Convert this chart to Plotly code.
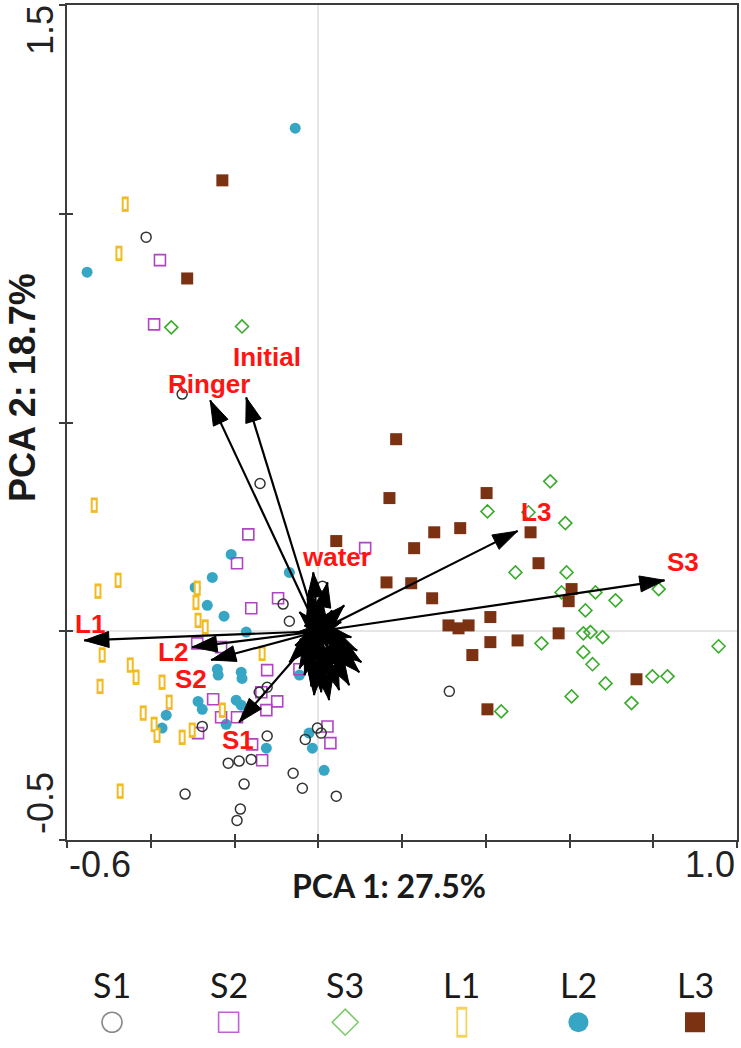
import plotly.graph_objects as go

# ---- PCA scores (PC1, PC2) ----
s1_x = [-0.411, -0.325, -0.139, 0.010, -0.084, -0.069, -0.141, -0.122, -0.277, -0.122,
        -0.215, -0.189, -0.160, -0.177, -0.318, -0.186, -0.194, -0.060, -0.038, -0.031,
        -0.002, 0.007, 0.043, 0.313]
s1_y = [0.944, 0.568, 0.354, 0.108, 0.065, 0.024, -0.146, -0.134, -0.228, -0.251,
        -0.316, -0.311, -0.307, -0.366, -0.390, -0.426, -0.453, -0.340, -0.376, -0.259,
        -0.232, -0.244, -0.395, -0.144]

s2_x = [-0.378, -0.392, -0.167, -0.194, -0.096, -0.160, 0.112, -0.289, -0.232, -0.122,
        -0.251, -0.136, -0.098, -0.124, -0.232, -0.194, -0.287, -0.158, -0.134, 0.022,
        0.029, -0.045]
s2_y = [0.889, 0.735, 0.232, 0.163, 0.079, 0.055, 0.199, -0.029, -0.038, -0.093,
        -0.163, -0.146, -0.168, -0.189, -0.206, -0.206, -0.244, -0.271, -0.309, -0.228,
        -0.268, -0.091]

s3_x = [-0.351, -0.182, 0.554, 0.404, 0.502, 0.590, 0.471, 0.593, 0.581, 0.662,
        0.710, 0.813, 0.638, 0.633, 0.650, 0.679, 0.533, 0.633, 0.655, 0.686,
        0.798, 0.834, 0.605, 0.748, 0.956, 0.437]
s3_y = [0.728, 0.730, 0.359, 0.287, 0.285, 0.259, 0.141, 0.141, 0.093, 0.093,
        0.074, 0.101, 0.050, -0.005, -0.002, -0.014, -0.029, -0.050, -0.079, -0.125,
        -0.108, -0.108, -0.156, -0.172, -0.036, -0.192]

l1_x = [-0.461, -0.476, -0.535, -0.478, -0.526, -0.289, -0.292, -0.287, -0.270, -0.516,
        -0.521, -0.449, -0.435, -0.373, -0.356, -0.418, -0.392, -0.385, -0.301, -0.325,
        -0.134, -0.229, -0.473]
l1_y = [1.023, 0.905, 0.302, 0.122, 0.096, 0.103, 0.069, 0.026, 0.010, -0.057,
        -0.132, -0.081, -0.110, -0.122, -0.170, -0.196, -0.223, -0.249, -0.237, -0.254,
        -0.053, -0.189, -0.383]

l2_x = [-0.055, -0.552, -0.208, -0.253, -0.294, -0.265, -0.225, -0.069, -0.172, -0.241,
        -0.239, -0.184, -0.182, -0.287, -0.277, -0.196, -0.184, -0.363, -0.373, -0.220,
        -0.124, -0.045, -0.022, -0.014, 0.014]
l2_y = [1.205, 0.860, 0.184, 0.129, 0.105, 0.062, 0.036, 0.141, -0.002, -0.091,
        -0.105, -0.098, -0.113, -0.168, -0.187, -0.165, -0.177, -0.201, -0.232, -0.223,
        -0.280, -0.105, -0.244, -0.280, -0.333]

l3_x = [-0.229, -0.313, 0.186, 0.170, 0.402, 0.277, 0.339, 0.043, 0.229, 0.507,
        0.526, 0.163, 0.222, 0.272, 0.605, 0.598, 0.411, 0.311, 0.335, 0.359,
        0.411, 0.476, 0.574, 0.368, 0.760, 0.404]
l3_y = [1.080, 0.845, 0.460, 0.319, 0.331, 0.237, 0.247, 0.216, 0.199, 0.237,
        0.163, 0.117, 0.115, 0.079, 0.101, 0.072, 0.034, 0.014, 0.007, 0.014,
        -0.026, -0.022, -0.005, -0.057, -0.115, -0.187]

# ---- loadings (arrow tips) ----
load_names = ["L1", "L2", "S2", "S1", "Ringer", "Initial", "water", "L3", "S3"]
load_x = [-0.559, -0.301, -0.256, -0.189, -0.258, -0.172, -0.012, 0.476, 0.827]
load_y = [-0.022, -0.038, -0.069, -0.218, 0.553, 0.560, 0.141, 0.240, 0.122]
# where each loading name is written
name_x = [-0.545, -0.347, -0.304, -0.191, -0.261, -0.122, 0.043, 0.521, 0.872]
name_y = [0.017, -0.050, -0.115, -0.261, 0.592, 0.656, 0.177, 0.285, 0.165]

# short unlabeled loadings round the origin
minor_x = [-0.069, -0.045, -0.055, -0.033, -0.017, 0.007, 0.033, 0.050, 0.062, 0.086,
           0.098, 0.069, 0.079, 0.055, 0.033, 0.007, -0.026, -0.045, -0.022,
           0.026, -0.010, 0.093, 0.103, 0.050, 0.014, 0.074, -0.033, -0.050, -0.002,
           0.022, 0.062, -0.045, -0.022]
minor_y = [-0.074, -0.057, -0.034, -0.105, -0.132, -0.146, -0.122, -0.141, -0.098, -0.069,
           -0.098, -0.041, -0.014, 0.022, 0.050, 0.084, 0.079, 0.046, 0.098,
           -0.165, -0.153, -0.046, -0.074, -0.089, -0.105, -0.129, 0.014, -0.002, 0.055,
           0.117, 0.062, -0.089, -0.069]

groups = ["S1", "S2", "S3", "L1", "L2", "L3"]

fig = go.Figure()

def pts(x, y, **marker):
    fig.add_trace(go.Scatter(x=x, y=y, mode="markers", marker=marker,
                             showlegend=False, hoverinfo="skip"))

pts(l2_x, l2_y, symbol="circle", size=11, color="#36a6c4")
pts(s2_x, s2_y, symbol="square-open", size=11, color="#b044c4",
    line=dict(width=1.6, color="#b044c4"))
pts(s1_x, s1_y, symbol="circle-open", size=10, color="#333333",
    line=dict(width=1.5, color="#333333"))
# L1: narrow open rectangle = yellow bar with a white slot
pts(l1_x, l1_y, symbol="line-ns", size=11, color="#f2bb22",
    line=dict(width=7, color="#f2bb22"))
pts(l1_x, l1_y, symbol="line-ns", size=7, color="white",
    line=dict(width=3, color="white"))
pts(s3_x, s3_y, symbol="diamond-open", size=10, color="#3aac2c",
    line=dict(width=1.6, color="#3aac2c"))
pts(l3_x, l3_y, symbol="square", size=12, color="#7a3213")

# arrows from origin: shafts, then heads
sx, sy = [], []
for tx, ty in zip(load_x + minor_x, load_y + minor_y):
    sx += [0, tx, None]
    sy += [0, ty, None]
fig.add_trace(go.Scatter(x=sx, y=sy, mode="lines", line=dict(color="#000000", width=2.2),
                         showlegend=False, hoverinfo="skip"))
hx, hy, hsz = [], [], []
for tx, ty in zip(load_x + minor_x, load_y + minor_y):
    hx += [0, tx, None]
    hy += [0, ty, None]
    hsz += [0, 26, 0]
fig.add_trace(go.Scatter(
    x=hx, y=hy, mode="markers",
    marker=dict(symbol="arrow", size=hsz, angleref="previous", color="#000000",
                opacity=1, line=dict(width=1, color="#000000")),
    showlegend=False, hoverinfo="skip"))

# overlay axes for the inward half of the crossing ticks
fig.add_trace(go.Scatter(x=[None], y=[None], xaxis="x3", yaxis="y3",
                         showlegend=False, hoverinfo="skip"))

# legend row on its own hidden axes
leg_sym = ["circle-open", "square-open", "diamond-open", "line-ns", "circle", "square"]
leg_col = ["#8a8a8a", "#c061d2", "#7ccc6a", "#f7d25a", "#36a6c4", "#7a3213"]
leg_y = 0.13
for i, g in enumerate(groups):
    if g == "L1":
        fig.add_trace(go.Scatter(x=[g], y=[leg_y], xaxis="x2", yaxis="y2", mode="markers",
                                 marker=dict(symbol="line-ns", size=22, color=leg_col[i],
                                             line=dict(width=11, color=leg_col[i])),
                                 showlegend=False, hoverinfo="skip"))
        fig.add_trace(go.Scatter(x=[g], y=[leg_y], xaxis="x2", yaxis="y2", mode="markers",
                                 marker=dict(symbol="line-ns", size=18, color="white",
                                             line=dict(width=7.4, color="white")),
                                 showlegend=False, hoverinfo="skip"))
        continue
    open_ = leg_sym[i].endswith("open")
    fig.add_trace(go.Scatter(
        x=[g], y=[leg_y], xaxis="x2", yaxis="y2", mode="markers",
        marker=dict(symbol=leg_sym[i], size=20, color=leg_col[i],
                    line=dict(width=1.6 if open_ else 0, color=leg_col[i])),
        showlegend=False, hoverinfo="skip"))

ann = []
for n, x, y in zip(load_names, name_x, name_y):
    ann.append(dict(x=x, y=y, xref="x", yref="y", text="<b>" + n + "</b>", showarrow=False,
                    font=dict(family="Liberation Sans, Arial", size=26, color="#ff1414"),
                    xanchor="center", yanchor="middle"))
for g in groups:
    ann.append(dict(x=g, y=0.32, xref="x2", yref="y2", text=g, showarrow=False,
                    font=dict(family="Lato", size=34, color="#1a1a1a"),
                    xanchor="center", yanchor="middle"))

tick_font = dict(family="Liberation Sans, Arial", size=36, color="#222222")
ann += [
    dict(x=0, y=(1048 - 864) / 1043, xref="paper", yref="paper", text="-0.6",
         showarrow=False, xanchor="left", yanchor="middle", font=tick_font),
    dict(x=1, y=(1048 - 864) / 1043, xref="paper", yref="paper", text="1.0",
         showarrow=False, xanchor="right", yanchor="middle", font=tick_font),
    dict(x=-27 / 670, y=(1048 - 30) / 1043, xref="paper", yref="paper", text="1.5",
         showarrow=False, textangle=-90, xanchor="center", yanchor="middle", font=tick_font),
    dict(x=-27 / 670, y=(1048 - 803) / 1043, xref="paper", yref="paper", text="-0.5",
         showarrow=False, textangle=-90, xanchor="center", yanchor="middle", font=tick_font),
    dict(x=(389 - 67) / 670, y=(1048 - 885) / 1043, xref="paper", yref="paper",
         text="<b>PCA 1: 27.5%</b>", showarrow=False, xanchor="center", yanchor="middle",
         font=dict(family="Lato", size=32, color="#1a1a1a")),
    dict(x=-45 / 670, y=(1048 - 388) / 1043, xref="paper", yref="paper",
         text="<b>PCA 2: 18.7%</b>", showarrow=False, textangle=-90,
         xanchor="center", yanchor="middle",
         font=dict(family="Liberation Sans, Arial", size=36, color="#1a1a1a")),
]

ydom = [208 / 1043, 1]
axis_common = dict(showgrid=False, zeroline=True, zerolinecolor="#e6e6e6", zerolinewidth=1.5,
                   showline=True, linecolor="#3c3c3c", linewidth=2, mirror=True,
                   ticks="outside", ticklen=6, tickwidth=1.5, tickcolor="#3c3c3c",
                   showticklabels=False)
fig.update_layout(
    width=741, height=1048,
    margin=dict(l=67, r=4, t=5, b=0),
    paper_bgcolor="white", plot_bgcolor="white",
    xaxis=dict(range=[-0.6, 1.0], tickvals=[-0.6, -0.4, -0.2, 0, 0.2, 0.4, 0.6, 0.8, 1.0],
               domain=[0, 1], anchor="y", **axis_common),
    yaxis=dict(range=[-0.5, 1.5], tickvals=[-0.5, 0, 0.5, 1.0, 1.5],
               domain=ydom, anchor="x", **axis_common),
    xaxis3=dict(overlaying="x", matches="x", anchor="y3", range=[-0.6, 1.0],
                tickvals=[-0.6, -0.4, -0.2, 0, 0.2, 0.4, 0.6, 0.8, 1.0],
                ticks="inside", ticklen=6, tickwidth=1.5, tickcolor="#3c3c3c",
                showticklabels=False, showgrid=False, zeroline=False, showline=False),
    yaxis3=dict(overlaying="y", matches="y", anchor="x3", range=[-0.5, 1.5],
                tickvals=[-0.5, 0, 0.5, 1.0, 1.5],
                ticks="inside", ticklen=6, tickwidth=1.5, tickcolor="#3c3c3c",
                showticklabels=False, showgrid=False, zeroline=False, showline=False),
    xaxis2=dict(domain=[0, 1], anchor="y2", range=[-0.386, 5.36], type="category",
                categoryorder="array", categoryarray=groups, visible=False),
    yaxis2=dict(domain=[0, 0.19], anchor="x2", range=[0, 1], visible=False),
    annotations=ann,
)

# drop the browser's default 8px page margin so the figure sits at 0,0
fig.write_html("out.html", config={"displayModeBar": False},
               post_script="document.body.style.margin='0px';")
